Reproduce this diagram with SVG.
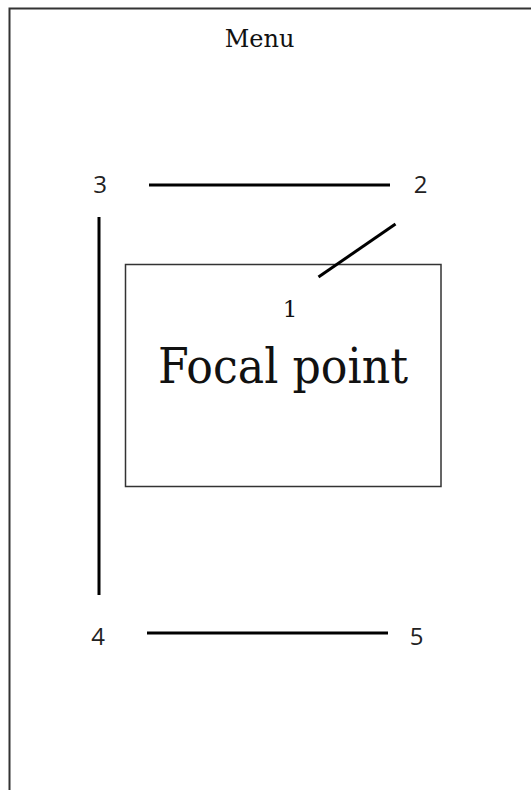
<svg xmlns="http://www.w3.org/2000/svg" width="531" height="790" viewBox="0 0 531 790">
<style>
.frame{fill:none;stroke:#333;stroke-width:2}
.box{fill:none;stroke:#333;stroke-width:1.5}
.ln{stroke:#000;stroke-width:3;stroke-linecap:butt}
.serif{font-family:"DejaVu Serif","Liberation Serif",serif;fill:#111}
.num{font-family:"Open Sans","Liberation Sans",sans-serif;font-size:24px;fill:#222;text-anchor:middle}
</style>
<rect width="531" height="790" fill="#fff"/>
<g id="frame">
<path class="frame" d="M9.5 790 V8.5 H531"/>
<text class="serif" x="259.5" y="47" font-size="24" text-anchor="middle">Menu</text>
</g>
<g id="focal">
<rect class="box" x="125.5" y="264.5" width="315.5" height="222"/>
<text class="serif" x="290" y="317" font-size="23" text-anchor="middle">1</text>
<text class="serif" x="283" y="383" font-size="48" text-anchor="middle" textLength="250" lengthAdjust="spacingAndGlyphs">Focal point</text>
</g>
<g id="n2"><text class="num" x="420.5" y="193">2</text></g>
<g id="n3"><text class="num" x="100" y="193">3</text></g>
<g id="n4"><text class="num" x="98" y="645">4</text></g>
<g id="n5"><text class="num" x="416.5" y="645">5</text></g>
<g id="connectors">
<line class="ln" x1="149" y1="185" x2="390" y2="185"/>
<line class="ln" x1="395.5" y1="224" x2="318.5" y2="277"/>
<line class="ln" x1="99" y1="217" x2="99" y2="595"/>
<line class="ln" x1="147" y1="633" x2="388" y2="633"/>
</g>
</svg>
